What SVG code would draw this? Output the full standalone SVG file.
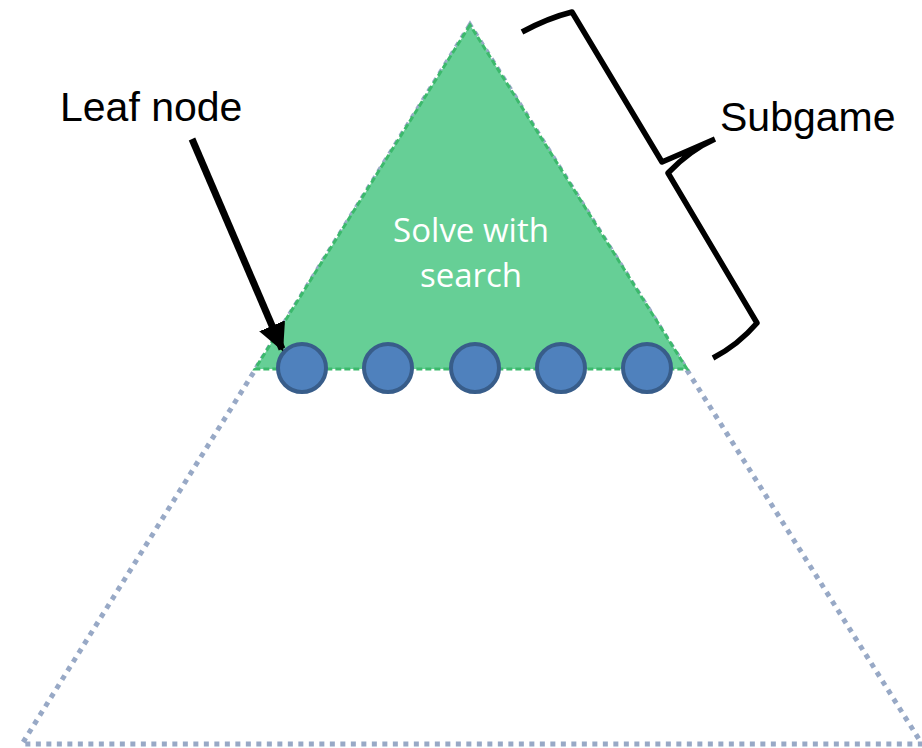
<svg xmlns="http://www.w3.org/2000/svg" width="922" height="748" viewBox="0 0 922 748">
  <defs>
    <marker id="arrowHead" viewBox="0 0 10 10" refX="9" refY="5" markerWidth="4" markerHeight="4" orient="auto" markerUnits="strokeWidth">
      <path d="M0,0 L10,5 L0,10 z" fill="#000"/>
    </marker>
  </defs>
  <style>
    .label { font-family: "Liberation Sans", Arial, sans-serif; font-size: 41px; fill: #000; }
    .inner { font-family: "Open Sans", "Liberation Sans", sans-serif; font-size: 33px; fill: #fff; text-anchor: middle; }
    .leaf { fill: #4f81bd; stroke: #385d8a; stroke-width: 4; }
  </style>
  <rect width="922" height="748" fill="#fff"/>

  <!-- full game tree outline -->
  <g id="full-tree">
    <polygon points="470,25 22,744 922,744" fill="none" stroke="#98a9c6" stroke-width="5" stroke-dasharray="5,5.5"/>
  </g>

  <!-- subgame region -->
  <g id="subgame">
    <polygon points="470,25 255,369 687,369" fill="#66cf96" stroke="#3cb96c" stroke-width="3" stroke-dasharray="6,3"/>
    <text class="inner" x="471" y="242">Solve with</text>
    <text class="inner" x="471" y="287">search</text>
  </g>

  <!-- leaf nodes -->
  <g id="leaf-1"><circle class="leaf" cx="302" cy="368" r="24"/></g>
  <g id="leaf-2"><circle class="leaf" cx="388" cy="368" r="24"/></g>
  <g id="leaf-3"><circle class="leaf" cx="475" cy="368" r="24"/></g>
  <g id="leaf-4"><circle class="leaf" cx="561" cy="368" r="24"/></g>
  <g id="leaf-5"><circle class="leaf" cx="647" cy="368" r="24"/></g>

  <!-- labels -->
  <g id="leaf-label"><text class="label" x="60" y="121">Leaf node</text></g>
  <g id="subgame-label"><text class="label" x="720" y="131">Subgame</text></g>

  <!-- connectors -->
  <g id="connectors">
    <line x1="192" y1="139" x2="282" y2="349" stroke="#000" stroke-width="7" marker-end="url(#arrowHead)"/>
    <path d="M522,32 Q548,18 572,12 L662,162 Q690,150 715,139 M715,139 Q690,150 668,173 L757,323 Q738,345 713,358" fill="none" stroke="#000" stroke-width="5.5" stroke-linejoin="round"/>
  </g>
</svg>
